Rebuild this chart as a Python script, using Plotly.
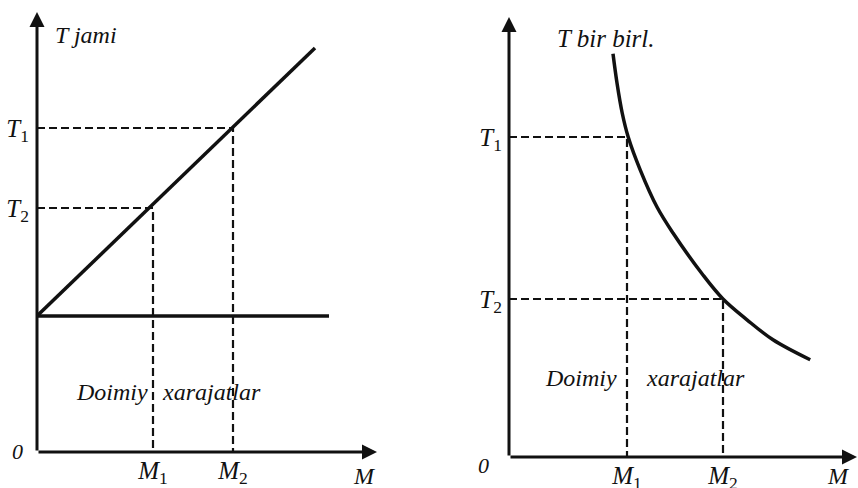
import plotly.graph_objects as go

# left panel: total cost (T jami)
left_fixed = 3.4             # doimiy xarajatlar level
left_fixed_end = 7.3
left_q = [0, 6.95]
left_total = [3.4, 10.1]
left_m = [2.9, 4.9]          # M1, M2
left_t = [6.1, 8.1]          # T2 at M1, T1 at M2

# right panel: cost per unit (T bir birl.)
right_q = [2.6, 2.7, 2.83, 2.98, 3.28, 3.7, 4.1, 4.85, 5.35, 5.95, 6.6, 7.53]
right_t = [10.08, 9.35, 8.6, 8.0, 7.18, 6.25, 5.6, 4.55, 3.95, 3.43, 2.93, 2.43]
right_m = [2.95, 5.35]       # M1, M2
right_tv = [8.0, 3.95]       # T1 at M1, T2 at M2

m_labels = ["<i>M</i><sub>1</sub>", "<i>M</i><sub>2</sub>"]
FONT = "Liberation Serif"
INK = "#111111"
SOLID = dict(color=INK, width=3.5)
DASH = dict(color=INK, width=2.2, dash="8px,4px")

W, H = 858, 488

fig = go.Figure()

# left panel
fig.add_trace(go.Scatter(x=[0, left_fixed_end], y=[left_fixed, left_fixed], mode="lines",
                         line=SOLID, xaxis="x", yaxis="y"))
fig.add_trace(go.Scatter(x=left_q, y=left_total, mode="lines", line=SOLID, xaxis="x", yaxis="y"))
for m, t in zip(left_m, left_t):
    fig.add_trace(go.Scatter(x=[0, m, m], y=[t, t, 0], mode="lines", line=DASH,
                             xaxis="x", yaxis="y"))

# right panel
fig.add_trace(go.Scatter(x=right_q, y=right_t, mode="lines",
                         line=dict(color=INK, width=3.5, shape="spline"),
                         xaxis="x2", yaxis="y2"))
for m, t in zip(right_m, right_tv):
    fig.add_trace(go.Scatter(x=[0, m, m], y=[t, t, 0], mode="lines", line=DASH,
                             xaxis="x2", yaxis="y2"))

# axes with arrows
annotations = []
for xr, yr, xmax, ymax in [("x", "y", 8.5, 11), ("x2", "y2", 8.7, 11)]:
    for tx, ty in [(0, ymax), (xmax, 0)]:
        annotations.append(dict(x=tx, y=ty, ax=0, ay=0, xref=xr, yref=yr, axref=xr, ayref=yr,
                                text="", showarrow=True, arrowhead=2, arrowsize=1,
                                arrowwidth=3, arrowcolor=INK, standoff=0))

# text labels placed in page pixels (from top-left)
def label(text, px, py, size=24, anchor="center"):
    annotations.append(dict(x=px / W, y=1 - py / H, xref="paper", yref="paper",
                            text="<i>" + text + "</i>", showarrow=False,
                            xanchor=anchor, yanchor="middle",
                            font=dict(family=FONT, size=size, color=INK)))

label("T jami", 53, 35, anchor="left")
label("0", 17, 451, size=22)
label("M", 364, 476)
label("Doimiy", 112, 392)
label("xarajatlar", 211, 392)

label("T bir birl.", 606, 38, size=25)
label("0", 483, 465, size=22)
label("M", 838, 476)
label("Doimiy", 581, 378)
label("xarajatlar", 695, 378)

tick_font = dict(family=FONT, size=25, color=INK)
# automargin off: the M tick labels sit at the page edge and must not shrink the plot
axis_common = dict(showgrid=False, zeroline=False, showline=False, ticks="",
                   fixedrange=True, automargin=False)

fig.update_layout(
    width=W, height=H, autosize=False,
    margin=dict(l=0, r=0, t=0, b=0),
    paper_bgcolor="white", plot_bgcolor="white",
    showlegend=False,
    xaxis=dict(domain=[37 / W, 377 / W], range=[0, 8.5], anchor="y",
               tickvals=left_m, ticktext=m_labels, tickfont=tick_font,
               ticklabelstandoff=1, **axis_common),
    yaxis=dict(domain=[36 / H, 476 / H], range=[0, 11], anchor="x",
               tickvals=left_t, ticktext=["<i>T</i><sub>2</sub>", "<i>T</i><sub>1</sub>"],
               tickfont=tick_font, ticklabelstandoff=7, **axis_common),
    xaxis2=dict(domain=[509 / W, 857 / W], range=[0, 8.7], anchor="y2",
                tickvals=right_m, ticktext=m_labels, tickfont=tick_font,
                ticklabelstandoff=1, **axis_common),
    yaxis2=dict(domain=[31 / H, 471 / H], range=[0, 11], anchor="x2",
                tickvals=right_tv, ticktext=["<i>T</i><sub>1</sub>", "<i>T</i><sub>2</sub>"],
                tickfont=tick_font, ticklabelstandoff=6, **axis_common),
    annotations=annotations,
)

# drop the page's default body margin so the 858x488 figure fills the window exactly
fig.write_html("out.html", config={"responsive": False, "displayModeBar": False},
               post_script="document.body.style.margin = '0'; document.body.style.overflow = 'hidden';")
